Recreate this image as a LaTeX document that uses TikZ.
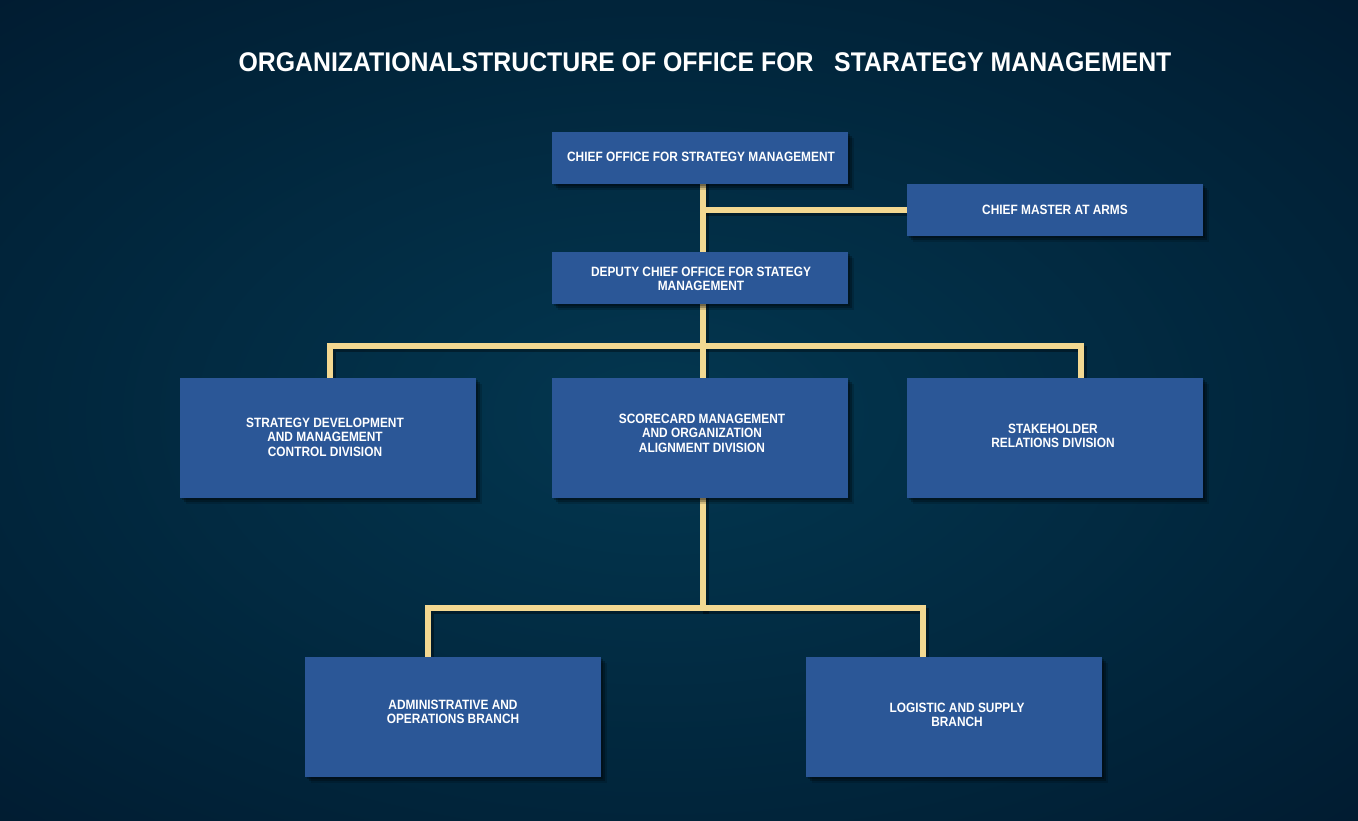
\documentclass[tikz,border=0pt]{standalone}
\usepackage{fontspec}
\setmainfont{Liberation Sans}
\newfontfamily\narrowfont[FakeStretch=0.88]{Liberation Sans}
\newfontfamily\titlefont[FakeStretch=0.92]{Liberation Sans}
\usetikzlibrary{shadows,calc}
\definecolor{bgin}{RGB}{3,55,80}
\definecolor{bgmid}{RGB}{1,36,58}
\definecolor{bgout}{RGB}{0,10,30}
\definecolor{boxblue}{RGB}{43,87,151}
\definecolor{linegold}{RGB}{243,216,145}
\pgfdeclareradialshading{bgshade}{\pgfpoint{0bp}{0bp}}{color(0bp)=(bgin); color(22bp)=(bgmid); color(50bp)=(bgout); color(100bp)=(bgout)}
\tikzset{
  orgbox/.style={fill=boxblue, draw=none, minimum width=296pt, inner sep=0pt,
    drop shadow={shadow xshift=2pt, shadow yshift=-2pt, opacity=0.25, fill=black},
    drop shadow={shadow xshift=4pt, shadow yshift=-4pt, opacity=0.25, fill=black},
    drop shadow={shadow xshift=6pt, shadow yshift=-6pt, opacity=0.15, fill=black}},
  smallbox/.style={orgbox, minimum height=52pt},
  bigbox/.style={orgbox, minimum height=120pt},
  boxtext/.style={text=white, align=center, inner sep=0pt,
    font=\narrowfont\bfseries\fontsize{13.5}{14.6}\selectfont},
  conn/.style={draw=linegold, line width=6pt, line cap=rect},
  connshadow/.style={draw=black, line width=6pt, line cap=rect, opacity=0.35,
    transform canvas={shift={(3pt,-3pt)}}}
}
\begin{document}
\begin{tikzpicture}[x=1pt,y=-1pt]
\useasboundingbox (0,0) rectangle (1358,821);
\shade[shading=bgshade] (-140,-50) rectangle (1460,880);
\node[text=white, font=\titlefont\bfseries\fontsize{27}{30}\selectfont] (title) at (705,62)
  {ORGANIZATIONALSTRUCTURE OF OFFICE FOR\ \ \ STARATEGY MANAGEMENT};
% connector points
\coordinate (c1) at (703,158);
\coordinate (c2) at (703,210);
\coordinate (c3) at (703,278);
\coordinate (c4) at (703,346);
\coordinate (c5) at (703,438);
\coordinate (c6) at (703,608);
\coordinate (d1) at (330,438);
\coordinate (d3) at (1081,438);
\coordinate (b1) at (428,717);
\coordinate (b2) at (923,717);
\coordinate (cm) at (1055,210);
% connector shadows
\draw[connshadow] (c1) -- (c2) -- (c3) -- (c4) -- (c5) -- (c6);
\draw[connshadow] (c2) -- (cm);
\draw[connshadow] (d1) |- (c4) -| (d3);
\draw[connshadow] (b1) |- (c6) -| (b2);
% connectors
\draw[conn] (c1) -- (c2) -- (c3) -- (c4) -- (c5) -- (c6);
\draw[conn] (c2) -- (cm);
\draw[conn] (d1) |- (c4) -| (d3);
\draw[conn] (b1) |- (c6) -| (b2);
% boxes
\node[smallbox] (chief) at (700,158) {};
\node[smallbox] (cma) at (1055,210) {};
\node[smallbox] (deputy) at (700,278) {};
\node[bigbox] (div1) at (328,438) {};
\node[bigbox] (div2) at (700,438) {};
\node[bigbox] (div3) at (1055,438) {};
\node[bigbox] (br1) at (453,717) {};
\node[bigbox] (br2) at (954,717) {};
% texts
\node[boxtext] (chieft) at ($(chief)+(1,-1)$) {CHIEF OFFICE FOR STRATEGY MANAGEMENT};
\node[boxtext] (cmat) at ($(cma)+(0,0)$) {CHIEF MASTER AT ARMS};
\node[boxtext] (deputyt) at ($(deputy)+(1,1)$) {DEPUTY CHIEF OFFICE FOR STATEGY\\MANAGEMENT};
\node[boxtext] (div1t) at ($(div1)+(-3,-1)$) {STRATEGY DEVELOPMENT\\AND MANAGEMENT\\CONTROL DIVISION};
\node[boxtext] (div2t) at ($(div2)+(2,-5)$) {SCORECARD MANAGEMENT\\AND ORGANIZATION\\ALIGNMENT DIVISION};
\node[boxtext] (div3t) at ($(div3)+(-2,-2)$) {STAKEHOLDER\\RELATIONS DIVISION};
\node[boxtext] (br1t) at ($(br1)+(0,-5)$) {ADMINISTRATIVE AND\\OPERATIONS BRANCH};
\node[boxtext] (br2t) at ($(br2)+(3,-2)$) {LOGISTIC AND SUPPLY\\BRANCH};
\end{tikzpicture}
\end{document}
